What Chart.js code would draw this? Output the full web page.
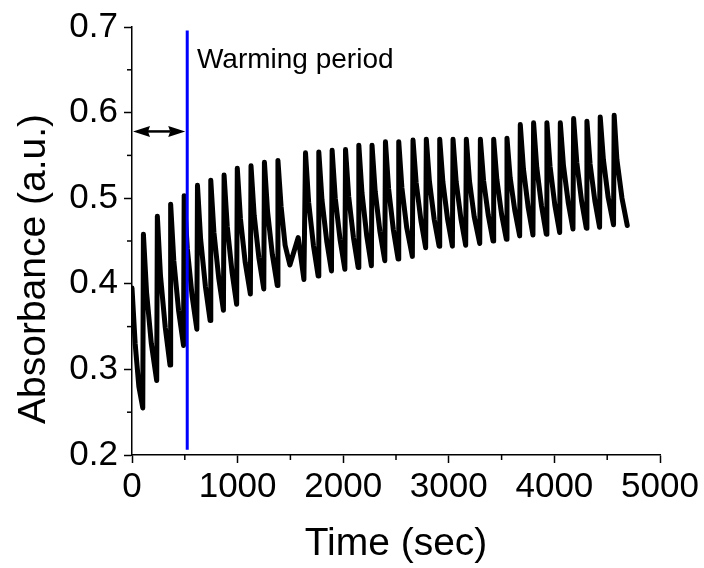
<!DOCTYPE html>
<html>
<head>
<meta charset="utf-8">
<script src="https://cdn.jsdelivr.net/npm/chart.js@4/dist/chart.umd.min.js"></script>
<style>
  html, body { margin: 0; padding: 0; background: #fff; }
  #wrap { width: 704px; height: 568px; }
</style>
</head>
<body>
<div id="wrap"><canvas id="absChart" width="704" height="568"></canvas></div>
<script>
// absorbance trace (sec, a.u.)
const timeSec = [
  0, 30, 65, 102,
  108, 138, 183, 234,
  240, 270, 315, 360,
  366, 396, 441, 488,
  494, 524, 569, 614,
  620, 650, 695, 740,
  746, 776, 821, 866,
  872, 902, 947, 991,
  997, 1027, 1072, 1121,
  1127, 1157, 1202, 1248,
  1254, 1284, 1329, 1376,
  1382, 1412, 1450, 1495, 1574, 1628,
  1643, 1673, 1718, 1763,
  1769, 1799, 1844, 1889,
  1895, 1925, 1970, 2016,
  2022, 2052, 2097, 2142,
  2148, 2178, 2223, 2267,
  2273, 2303, 2348, 2394,
  2400, 2430, 2475, 2520,
  2526, 2556, 2601, 2655,
  2661, 2691, 2736, 2781,
  2787, 2817, 2862, 2908,
  2914, 2944, 2989, 3034,
  3040, 3070, 3115, 3160,
  3166, 3196, 3241, 3293,
  3299, 3329, 3374, 3419,
  3425, 3455, 3500, 3545,
  3551, 3581, 3626, 3671,
  3677, 3707, 3752, 3797,
  3803, 3833, 3878, 3923,
  3929, 3959, 4004, 4050,
  4056, 4086, 4131, 4176,
  4182, 4212, 4257, 4302,
  4308, 4338, 4383, 4428,
  4434, 4464, 4509, 4560,
  4566, 4592, 4640, 4690
];

const absorbance = [
  0.395, 0.330, 0.280, 0.255,
  0.458, 0.390, 0.330, 0.287,
  0.479, 0.409, 0.349, 0.305,
  0.493, 0.427, 0.369, 0.328,
  0.503, 0.441, 0.386, 0.347,
  0.515, 0.452, 0.397, 0.357,
  0.521, 0.460, 0.407, 0.369,
  0.527, 0.467, 0.414, 0.376,
  0.535, 0.476, 0.425, 0.388,
  0.538, 0.480, 0.430, 0.394,
  0.542, 0.484, 0.434, 0.398,
  0.544, 0.490, 0.445, 0.422, 0.454, 0.405,
  0.553, 0.495, 0.445, 0.409,
  0.554, 0.498, 0.450, 0.415,
  0.556, 0.500, 0.452, 0.417,
  0.557, 0.502, 0.454, 0.419,
  0.562, 0.506, 0.456, 0.421,
  0.562, 0.508, 0.461, 0.427,
  0.566, 0.511, 0.463, 0.429,
  0.566, 0.512, 0.466, 0.432,
  0.568, 0.518, 0.474, 0.442,
  0.569, 0.519, 0.475, 0.444,
  0.569, 0.519, 0.475, 0.444,
  0.569, 0.519, 0.476, 0.445,
  0.569, 0.520, 0.478, 0.447,
  0.569, 0.521, 0.480, 0.450,
  0.569, 0.522, 0.481, 0.452,
  0.570, 0.524, 0.485, 0.456,
  0.586, 0.534, 0.489, 0.457,
  0.588, 0.536, 0.491, 0.458,
  0.588, 0.537, 0.492, 0.460,
  0.588, 0.538, 0.495, 0.464,
  0.593, 0.542, 0.497, 0.465,
  0.590, 0.540, 0.497, 0.466,
  0.595, 0.545, 0.501, 0.469,
  0.597, 0.545, 0.500, 0.468
];

// end of warming period marker
const warmingTime = [523, 523];
const warmingAbs = [0.206, 0.696];
const arrowTime = [0, 523];
const arrowAbs = 0.578;
const warmingLabel = "Warming period";
const labelAt = { t: 615, a: 0.652 };

const xTicks = [0, 1000, 2000, 3000, 4000, 5000];
const yTicks = [0.2, 0.3, 0.4, 0.5, 0.6, 0.7];

const FONT = "'Liberation Sans', Arial, sans-serif";

const tracePoints = timeSec.map((t, i) => ({ x: t, y: absorbance[i] }));
const warmingPoints = warmingTime.map((t, i) => ({ x: t, y: warmingAbs[i] }));

// minor ticks, arrow, annotation text and rotated y title
const extrasPlugin = {
  id: "extras",
  afterDraw(chart) {
    const ctx = chart.ctx;
    const xs = chart.scales.x;
    const ys = chart.scales.y;
    const area = chart.chartArea;
    ctx.save();
    ctx.strokeStyle = "#000";
    ctx.lineWidth = 1.5;
    // minor ticks
    for (let i = 0; i < yTicks.length - 1; i++) {
      const py = ys.getPixelForValue((yTicks[i] + yTicks[i + 1]) / 2);
      ctx.beginPath();
      ctx.moveTo(area.left - 5, py);
      ctx.lineTo(area.left, py);
      ctx.stroke();
    }
    for (let i = 0; i < xTicks.length - 1; i++) {
      const px = xs.getPixelForValue((xTicks[i] + xTicks[i + 1]) / 2);
      ctx.beginPath();
      ctx.moveTo(px, area.bottom);
      ctx.lineTo(px, area.bottom + 5);
      ctx.stroke();
    }

    // double arrow
    const ax0 = xs.getPixelForValue(arrowTime[0]) + 1;
    const ax1 = xs.getPixelForValue(arrowTime[1]) - 2;
    const ay = ys.getPixelForValue(arrowAbs);
    const hl = 17, hw = 5.5;
    ctx.lineWidth = 2.5;
    ctx.beginPath();
    ctx.moveTo(ax0 + hl - 2, ay);
    ctx.lineTo(ax1 - hl + 2, ay);
    ctx.stroke();
    ctx.fillStyle = "#000";
    ctx.beginPath();
    ctx.moveTo(ax0, ay);
    ctx.lineTo(ax0 + hl, ay - hw);
    ctx.lineTo(ax0 + hl - 2, ay);
    ctx.lineTo(ax0 + hl, ay + hw);
    ctx.closePath();
    ctx.fill();
    ctx.beginPath();
    ctx.moveTo(ax1, ay);
    ctx.lineTo(ax1 - hl, ay - hw);
    ctx.lineTo(ax1 - hl + 2, ay);
    ctx.lineTo(ax1 - hl, ay + hw);
    ctx.closePath();
    ctx.fill();

    // annotation
    ctx.font = "28px " + FONT;
    ctx.textAlign = "left";
    ctx.textBaseline = "alphabetic";
    ctx.fillText(warmingLabel, xs.getPixelForValue(labelAt.t), ys.getPixelForValue(labelAt.a));

    // y axis title
    ctx.translate(area.left - 98, (area.top + area.bottom) / 2 + 28);
    ctx.rotate(-Math.PI / 2);
    ctx.font = "39px " + FONT;
    ctx.textAlign = "center";
    ctx.textBaseline = "middle";
    ctx.fillText("Absorbance (a.u.)", 0, 0);
    ctx.restore();
  }
};

new Chart(document.getElementById("absChart"), {
  type: "line",
  data: {
    datasets: [
      {
        label: "warming",
        data: warmingPoints,
        borderColor: "#0000ff",
        borderWidth: 3,
        pointRadius: 0,
        tension: 0
      },
      {
        label: "absorbance",
        data: tracePoints,
        borderColor: "#000",
        borderWidth: 5,
        borderJoinStyle: "round",
        borderCapStyle: "round",
        pointRadius: 0,
        tension: 0
      }
    ]
  },
  options: {
    responsive: false,
    animation: false,
    layout: { padding: { left: 0, right: 44, top: 25, bottom: 0 } },
    plugins: {
      legend: { display: false },
      tooltip: { enabled: false }
    },
    scales: {
      x: {
        type: "linear",
        min: 0,
        max: 5000,
        afterFit: (s) => { s.height = 113; },
        afterBuildTicks: (s) => { s.ticks = xTicks.map(v => ({ value: v })); },
        grid: { drawOnChartArea: false, drawTicks: true, tickLength: 8, tickColor: "#000", tickWidth: 1.5 },
        border: { display: true, color: "#000", width: 1.5 },
        ticks: {
          color: "#000",
          font: { family: FONT, size: 35 },
          padding: 3,
          maxRotation: 0,
          callback: (v) => String(v)
        },
        title: {
          display: true,
          text: "Time (sec)",
          color: "#000",
          font: { family: FONT, size: 39 },
          padding: { top: 0, bottom: 0 }
        }
      },
      y: {
        min: 0.2,
        max: 0.7,
        afterFit: (s) => { s.width = 132; },
        afterBuildTicks: (s) => { s.ticks = yTicks.map(v => ({ value: v })); },
        grid: { drawOnChartArea: false, drawTicks: true, tickLength: 8, tickColor: "#000", tickWidth: 1.5 },
        border: { display: true, color: "#000", width: 1.5 },
        ticks: {
          color: "#000",
          font: { family: FONT, size: 35 },
          padding: 6,
          callback: (v) => v.toFixed(1)
        }
      }
    }
  },
  plugins: [extrasPlugin]
});
</script>
</body>
</html>
